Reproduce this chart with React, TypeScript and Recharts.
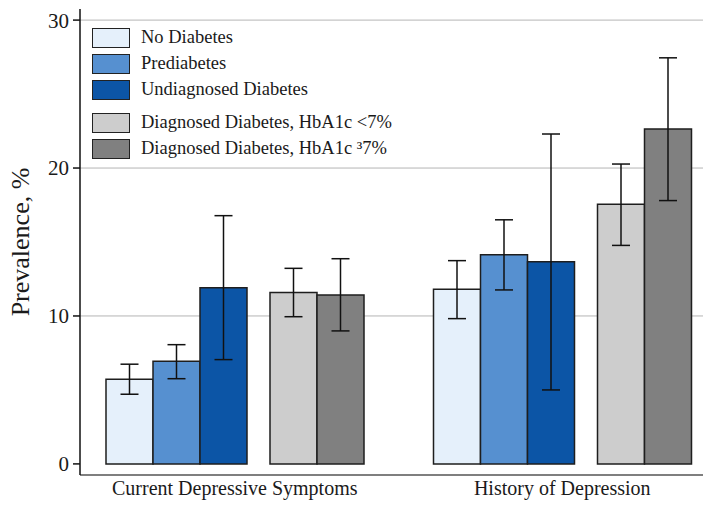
import React from 'react'
import { BarChart, Bar, XAxis, YAxis, CartesianGrid, ErrorBar, Legend } from 'recharts'

const categories = ['Current Depressive Symptoms', 'History of Depression']

const seriesNames = [
  'No Diabetes',
  'Prediabetes',
  'Undiagnosed Diabetes',
  'Diagnosed Diabetes, HbA1c <7%',
  'Diagnosed Diabetes, HbA1c ³7%',
]
const seriesColors = ['#e5f0fb', '#5690d0', '#0c55a6', '#cdcdcd', '#808080']

// prevalence (%) and 95% CI, one entry per category
const noDiabetes = [5.72, 11.8]
const noDiabetesLow = [4.71, 9.82]
const noDiabetesHigh = [6.74, 13.74]

const prediabetes = [6.94, 14.14]
const prediabetesLow = [5.76, 11.76]
const prediabetesHigh = [8.06, 16.5]

const undiagnosed = [11.91, 13.67]
const undiagnosedLow = [7.05, 5.0]
const undiagnosedHigh = [16.78, 22.3]

const diagnosedLow7 = [11.58, 17.55]
const diagnosedLow7Low = [9.95, 14.77]
const diagnosedLow7High = [13.22, 20.27]

const diagnosedHigh7 = [11.42, 22.63]
const diagnosedHigh7Low = [8.99, 17.8]
const diagnosedHigh7High = [13.87, 27.45]

const yTicks = [0, 10, 20, 30]
const gridValues = [10, 20, 30]

const series = [
  [noDiabetes, noDiabetesLow, noDiabetesHigh],
  [prediabetes, prediabetesLow, prediabetesHigh],
  [undiagnosed, undiagnosedLow, undiagnosedHigh],
  [diagnosedLow7, diagnosedLow7Low, diagnosedLow7High],
  [diagnosedHigh7, diagnosedHigh7Low, diagnosedHigh7High],
]

const data = categories.map((name, i) => {
  const row: any = { name }
  series.forEach(([val, low, high], s) => {
    row['s' + s] = val[i]
    row['e' + s] = [val[i] - low[i], high[i] - val[i]]
  })
  return row
})

const FONT = '"Liberation Serif", "Times New Roman", serif'

const renderLegend = (props: any) => {
  // keep the series order, not the alphabetical one
  const items = (props.payload || [])
    .filter((p: any) => seriesNames.includes(p.value))
    .sort((a: any, b: any) => seriesNames.indexOf(a.value) - seriesNames.indexOf(b.value))
  return (
    <div style={{ fontFamily: FONT, fontSize: 18.5, color: '#1a1a1a' }}>
      {items.map((p: any, i: number) => (
        <div
          key={p.value}
          style={{ display: 'flex', alignItems: 'center', height: 21, marginBottom: 5, marginTop: i === 3 ? 12 : 0 }}
        >
          <div
            style={{
              width: 36,
              height: 18,
              background: p.color,
              border: '1.5px solid #222',
              marginRight: 11,
            }}
          />
          <span style={{ whiteSpace: 'nowrap' }}>{p.value}</span>
        </div>
      ))}
    </div>
  )
}

export default function App() {
  return (
    <div style={{ width: 712, height: 508, background: '#fff' }}>
      <style>{'body{margin:0}'}</style>
      <BarChart
        width={712}
        height={508}
        data={data}
        margin={{ top: 9, right: 9, bottom: 0, left: 0 }}
        barGap={0}
        style={{ fontFamily: FONT }}
      >
        <CartesianGrid vertical={false} stroke="#b5b5b5" horizontalValues={gridValues} />
        <XAxis
          dataKey="name"
          height={33}
          padding={{ left: -9, right: -23 }}
          tickLine={false}
          tickSize={0}
          tickMargin={6}
          axisLine={{ stroke: '#555', strokeWidth: 1.5 }}
          tick={{ fill: '#1a1a1a', fontSize: 20, fontFamily: FONT }}
        />
        <YAxis
          width={80}
          domain={[-0.75, 30.75]}
          ticks={yTicks}
          allowDataOverflow
          tickSize={7}
          tickMargin={4}
          axisLine={{ stroke: '#111', strokeWidth: 1.5 }}
          tickLine={{ stroke: '#111', strokeWidth: 1.5 }}
          tick={{ fill: '#1a1a1a', fontSize: 21, fontFamily: FONT }}
          label={{
            value: 'Prevalence, %',
            angle: -90,
            position: 'center',
            dx: -20,
            style: { fill: '#1a1a1a', fontSize: 26, fontFamily: FONT },
          }}
        />
        <Legend
          layout="vertical"
          align="center"
          verticalAlign="middle"
          content={renderLegend}
          wrapperStyle={{ position: 'absolute', top: 27, left: 92, width: 320 }}
        />
        {[0, 1, 2].map((s) => (
          <Bar
            key={s}
            dataKey={'s' + s}
            name={seriesNames[s]}
            fill={seriesColors[s]}
            stroke="#1e1e1e"
            strokeWidth={1.5}
            barSize={47}
            isAnimationActive={false}
          >
            <ErrorBar dataKey={'e' + s} width={9} stroke="#111" strokeWidth={1.5} />
          </Bar>
        ))}
        <Bar dataKey="gap" barSize={23} legendType="none" isAnimationActive={false} />
        {[3, 4].map((s) => (
          <Bar
            key={s}
            dataKey={'s' + s}
            name={seriesNames[s]}
            fill={seriesColors[s]}
            stroke="#1e1e1e"
            strokeWidth={1.5}
            barSize={47}
            isAnimationActive={false}
          >
            <ErrorBar dataKey={'e' + s} width={9} stroke="#111" strokeWidth={1.5} />
          </Bar>
        ))}
      </BarChart>
    </div>
  )
}
